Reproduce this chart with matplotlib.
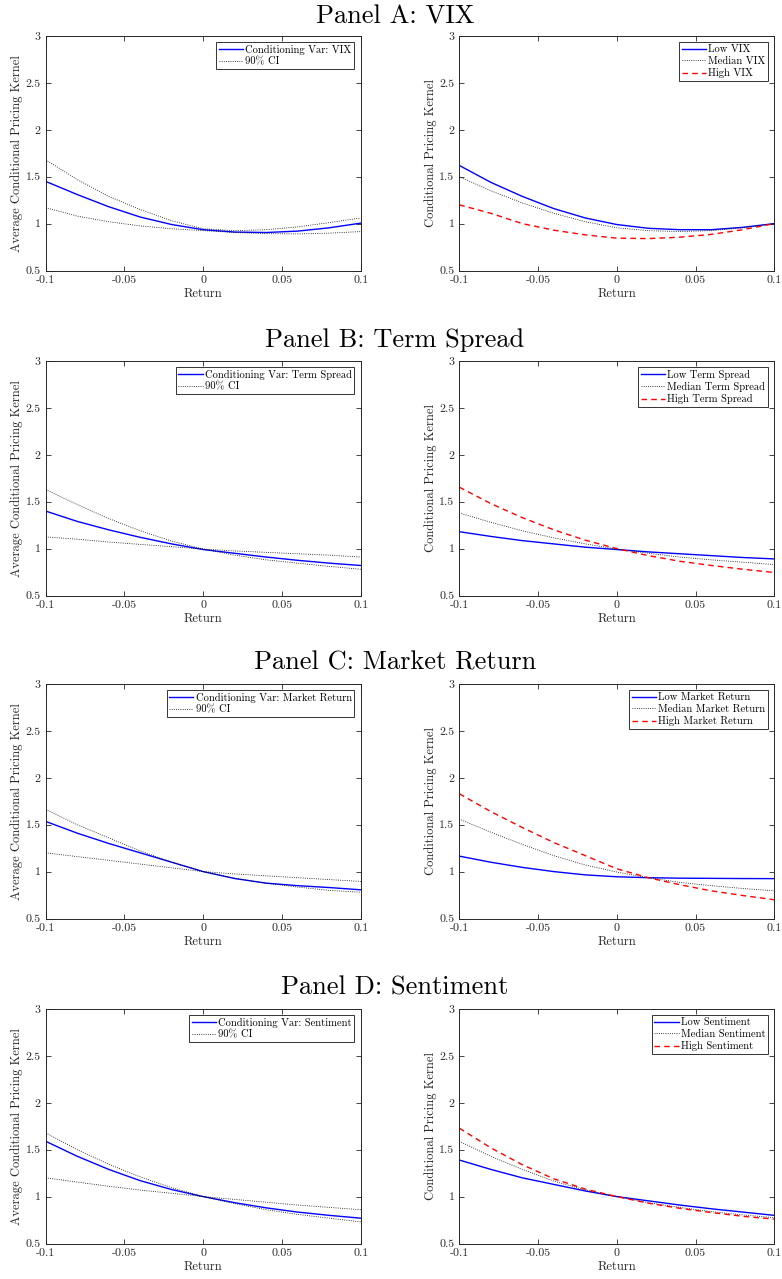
import matplotlib
matplotlib.use("Agg")
import matplotlib.pyplot as plt

plt.rcParams['font.family'] = ['cmr10', 'DejaVu Serif']
plt.rcParams['mathtext.fontset'] = 'cm'
plt.rcParams['axes.unicode_minus'] = False

# grid of returns the curves were read at
ret = [-0.1, -0.08, -0.06, -0.04, -0.02, 0.0, 0.02, 0.04, 0.06, 0.08, 0.1]

x_ticks = [-0.1, -0.05, 0, 0.05, 0.1]
x_ticklabels = ['-0.1', '-0.05', '0', '0.05', '0.1']
y_ticks = [0.5, 1, 1.5, 2, 2.5, 3]
y_ticklabels = ['0.5', '1', '1.5', '2', '2.5', '3']

panel_titles = ['Panel A: VIX', 'Panel B: Term Spread',
                'Panel C: Market Return', 'Panel D: Sentiment']
cond_vars = ['VIX', 'Term Spread', 'Market Return', 'Sentiment']

# left column: average kernel and 90% CI bands
avg_vix = [1.45, 1.31, 1.18, 1.07, 0.99, 0.935, 0.91, 0.905, 0.92, 0.955, 1.005]
ci1_vix = [1.68, 1.47, 1.29, 1.15, 1.03, 0.945, 0.925, 0.935, 0.965, 1.01, 1.06]
ci2_vix = [1.17, 1.08, 1.02, 0.975, 0.945, 0.925, 0.905, 0.893, 0.89, 0.898, 0.915]

avg_term = [1.40, 1.29, 1.20, 1.12, 1.05, 0.99, 0.95, 0.91, 0.875, 0.845, 0.82]
ci1_term = [1.63, 1.47, 1.32, 1.19, 1.08, 0.995, 0.93, 0.88, 0.845, 0.81, 0.78]
ci2_term = [1.125, 1.10, 1.07, 1.045, 1.02, 0.995, 0.975, 0.96, 0.945, 0.93, 0.91]

avg_mkt = [1.535, 1.41, 1.30, 1.20, 1.10, 1.0, 0.926, 0.877, 0.85, 0.83, 0.806]
ci1_mkt = [1.665, 1.50, 1.36, 1.22, 1.10, 1.0, 0.93, 0.875, 0.835, 0.80, 0.78]
ci2_mkt = [1.20, 1.16, 1.12, 1.08, 1.04, 1.0, 0.975, 0.955, 0.935, 0.915, 0.895]

avg_sent = [1.59, 1.43, 1.29, 1.17, 1.075, 1.0, 0.935, 0.88, 0.835, 0.80, 0.77]
ci1_sent = [1.68, 1.50, 1.345, 1.21, 1.095, 1.0, 0.925, 0.86, 0.81, 0.77, 0.73]
ci2_sent = [1.20, 1.155, 1.11, 1.07, 1.035, 1.0, 0.97, 0.94, 0.91, 0.885, 0.86]

# right column: kernel at low / median / high conditioning variable
low_vix = [1.62, 1.44, 1.29, 1.16, 1.06, 0.99, 0.95, 0.935, 0.935, 0.96, 1.0]
med_vix = [1.50, 1.35, 1.22, 1.11, 1.02, 0.955, 0.925, 0.915, 0.925, 0.955, 1.0]
high_vix = [1.20, 1.11, 1.0, 0.93, 0.88, 0.845, 0.84, 0.855, 0.885, 0.935, 1.0]

low_term = [1.18, 1.13, 1.085, 1.05, 1.015, 0.99, 0.965, 0.945, 0.925, 0.905, 0.89]
med_term = [1.38, 1.28, 1.19, 1.115, 1.05, 0.995, 0.95, 0.91, 0.88, 0.855, 0.83]
high_term = [1.655, 1.48, 1.33, 1.20, 1.09, 1.0, 0.925, 0.865, 0.82, 0.78, 0.745]

low_mkt = [1.165, 1.10, 1.045, 1.0, 0.965, 0.945, 0.935, 0.93, 0.928, 0.926, 0.925]
med_mkt = [1.56, 1.42, 1.29, 1.17, 1.07, 0.995, 0.935, 0.885, 0.85, 0.82, 0.795]
high_mkt = [1.83, 1.64, 1.47, 1.31, 1.17, 1.03, 0.935, 0.86, 0.795, 0.745, 0.70]

low_sent = [1.39, 1.29, 1.20, 1.13, 1.06, 1.0, 0.955, 0.91, 0.87, 0.835, 0.80]
med_sent = [1.59, 1.43, 1.29, 1.165, 1.07, 1.0, 0.935, 0.885, 0.84, 0.805, 0.775]
high_sent = [1.73, 1.52, 1.34, 1.19, 1.08, 1.0, 0.93, 0.875, 0.83, 0.79, 0.76]

left_data = [(avg_vix, ci1_vix, ci2_vix), (avg_term, ci1_term, ci2_term),
             (avg_mkt, ci1_mkt, ci2_mkt), (avg_sent, ci1_sent, ci2_sent)]
right_data = [(low_vix, med_vix, high_vix), (low_term, med_term, high_term),
              (low_mkt, med_mkt, high_mkt), (low_sent, med_sent, high_sent)]

W, H = 782, 1279
fig = plt.figure(figsize=(W / 100, H / 100), dpi=100)

ax_tops = [36, 361, 684, 1009]
ax_h = 234.5
left_x, right_x, ax_w = 45.7, 459.3, 315
title_y = [17, 340, 663, 988]
spine_col = '#262626'


def style(ax, ylabel):
    ax.set_xlim(-0.1, 0.1)
    ax.set_ylim(0.5, 3)
    ax.set_xticks(x_ticks)
    ax.set_xticklabels(x_ticklabels)
    ax.set_yticks(y_ticks)
    ax.set_yticklabels(y_ticklabels)
    ax.tick_params(direction='in', top=True, right=True, length=3.5,
                   width=0.6, labelsize=8.6, colors=spine_col)
    ax.tick_params(axis='x', pad=3.5)
    ax.tick_params(axis='y', pad=3.5)
    for s in ax.spines.values():
        s.set_color(spine_col)
        s.set_linewidth(0.7)
    ax.set_xlabel('Return', fontsize=9, color=spine_col, labelpad=2)
    ax.set_ylabel(ylabel, fontsize=9, color=spine_col, labelpad=2)


def legend(ax):
    leg = ax.legend(loc='upper right', fontsize=7.6, frameon=True,
                    fancybox=False, edgecolor='k', handlelength=2.3,
                    handletextpad=0.2, borderpad=0.25, labelspacing=0.2,
                    borderaxespad=0.6)
    leg.get_frame().set_linewidth(0.7)


for i in range(4):
    top = ax_tops[i]
    bottom = 1 - (top + ax_h) / H
    axl = fig.add_axes([left_x / W, bottom, ax_w / W, ax_h / H])
    avg, c1, c2 = left_data[i]
    axl.plot(ret, avg, color='#0000ff', lw=1.0,
             label='Conditioning Var: ' + cond_vars[i])
    axl.plot(ret, c1, color='k', ls=':', lw=0.6, label='90% CI')
    axl.plot(ret, c2, color='k', ls=':', lw=0.6)
    style(axl, 'Average Conditional Pricing Kernel')
    legend(axl)

    axr = fig.add_axes([right_x / W, bottom, ax_w / W, ax_h / H])
    lo, md, hi = right_data[i]
    axr.plot(ret, lo, color='#0000ff', lw=1.0, label='Low ' + cond_vars[i])
    axr.plot(ret, md, color='k', ls=':', lw=0.6, label='Median ' + cond_vars[i])
    axr.plot(ret, hi, color='#ff0000', ls=(0, (4, 3)), lw=1.0,
             label='High ' + cond_vars[i])
    style(axr, 'Conditional Pricing Kernel')
    legend(axr)

    fig.text(395 / W, 1 - title_y[i] / H, panel_titles[i], fontsize=19,
             ha='center', va='center')

fig.savefig('out.png', dpi=100)
